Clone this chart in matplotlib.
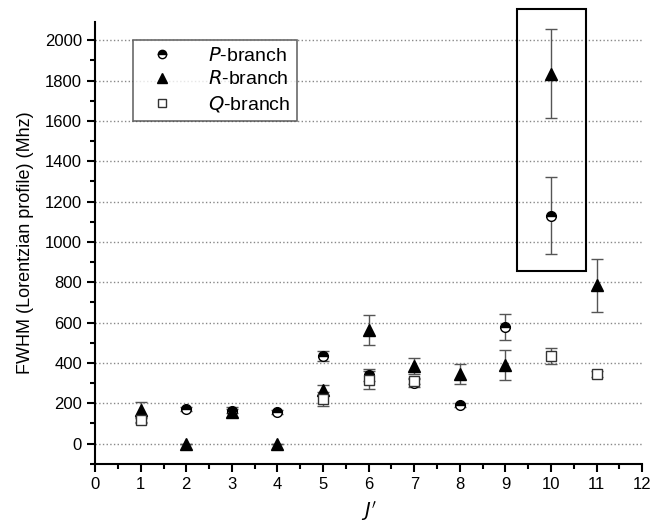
import matplotlib.pyplot as plt
from matplotlib.patches import Rectangle
from matplotlib.lines import Line2D
from matplotlib.ticker import MultipleLocator

# data
j_p = [1, 2, 3, 4, 5, 6, 7, 8, 9, 10]
fwhm_p = [120, 170, 160, 155, 435, 340, 300, 190, 580, 1130]
err_p = [15, 10, 10, 10, 25, 30, 20, 10, 65, 190]

j_r = [1, 2, 3, 4, 5, 6, 7, 8, 9, 10, 11]
fwhm_r = [165, 0, 155, 0, 265, 565, 385, 345, 390, 1835, 785]
err_r = [40, 0, 25, 0, 25, 75, 40, 50, 75, 220, 130]

j_q = [1, 5, 6, 7, 10, 11]
fwhm_q = [115, 220, 315, 310, 435, 345]
err_q = [15, 35, 45, 15, 40, 15]

plt.rcParams['font.family'] = ['Liberation Sans', 'DejaVu Sans']

fig = plt.figure(figsize=(6.56, 5.27), dpi=100)
ax = fig.add_axes([0.145, 0.12, 0.834, 0.838])

ebkw = dict(ecolor='#555555', elinewidth=1, capsize=4, capthick=1)
pkw = dict(marker='o', ms=7, mfc='black', mec='black', fillstyle='top',
           markerfacecoloralt='white', ls='none')
rkw = dict(marker='^', ms=8, mfc='black', mec='black', ls='none')
qkw = dict(marker='s', ms=7, mfc='white', mec='#333333', mew=1, ls='none')

ax.errorbar(j_p, fwhm_p, yerr=err_p, **pkw, **ebkw)
ax.errorbar(j_r, fwhm_r, yerr=err_r, **rkw, **ebkw)
ax.errorbar(j_q, fwhm_q, yerr=err_q, **qkw, **ebkw)

ax.set_xlim(0, 12)
ax.set_ylim(-100, 2090)
ax.xaxis.set_major_locator(MultipleLocator(1))
ax.xaxis.set_minor_locator(MultipleLocator(0.5))
ax.yaxis.set_minor_locator(MultipleLocator(100))
ax.set_yticks(range(0, 2001, 200))
ax.grid(axis='y', which='major', linestyle=':', color='#888888', linewidth=1)

ax.spines['top'].set_visible(False)
ax.spines['right'].set_visible(False)
ax.spines['left'].set_linewidth(1.5)
ax.spines['bottom'].set_linewidth(1.5)
ax.tick_params(which='major', direction='out', length=6, width=1.5, labelsize=12)
ax.tick_params(which='minor', direction='out', length=3.5, width=1.5)

ax.set_xlabel("$J'$", fontsize=14, labelpad=5)
ax.set_ylabel('FWHM (Lorentzian profile) (Mhz)', fontsize=13, labelpad=8)

# box around the J'=10 points
ax.add_patch(Rectangle((9.25, 856), 1.52, 1297, fill=False, edgecolor='black',
                       linewidth=1.5, clip_on=False, zorder=5))

handles = [Line2D([], [], **{**pkw, 'ms': 6}),
           Line2D([], [], **{**rkw, 'ms': 7}),
           Line2D([], [], **{**qkw, 'ms': 6})]
labels = ['$P$-branch', '$R$-branch', '$Q$-branch']
leg = ax.legend(handles, labels, loc='upper left', bbox_to_anchor=(0.07, 0.96),
                fontsize=14, frameon=True, fancybox=False, edgecolor='#444444',
                borderpad=0.35, handlelength=2.2, handletextpad=1.3,
                labelspacing=0.3, borderaxespad=0)
leg.get_frame().set_linewidth(1.2)

fig.savefig('out.png', dpi=100)
